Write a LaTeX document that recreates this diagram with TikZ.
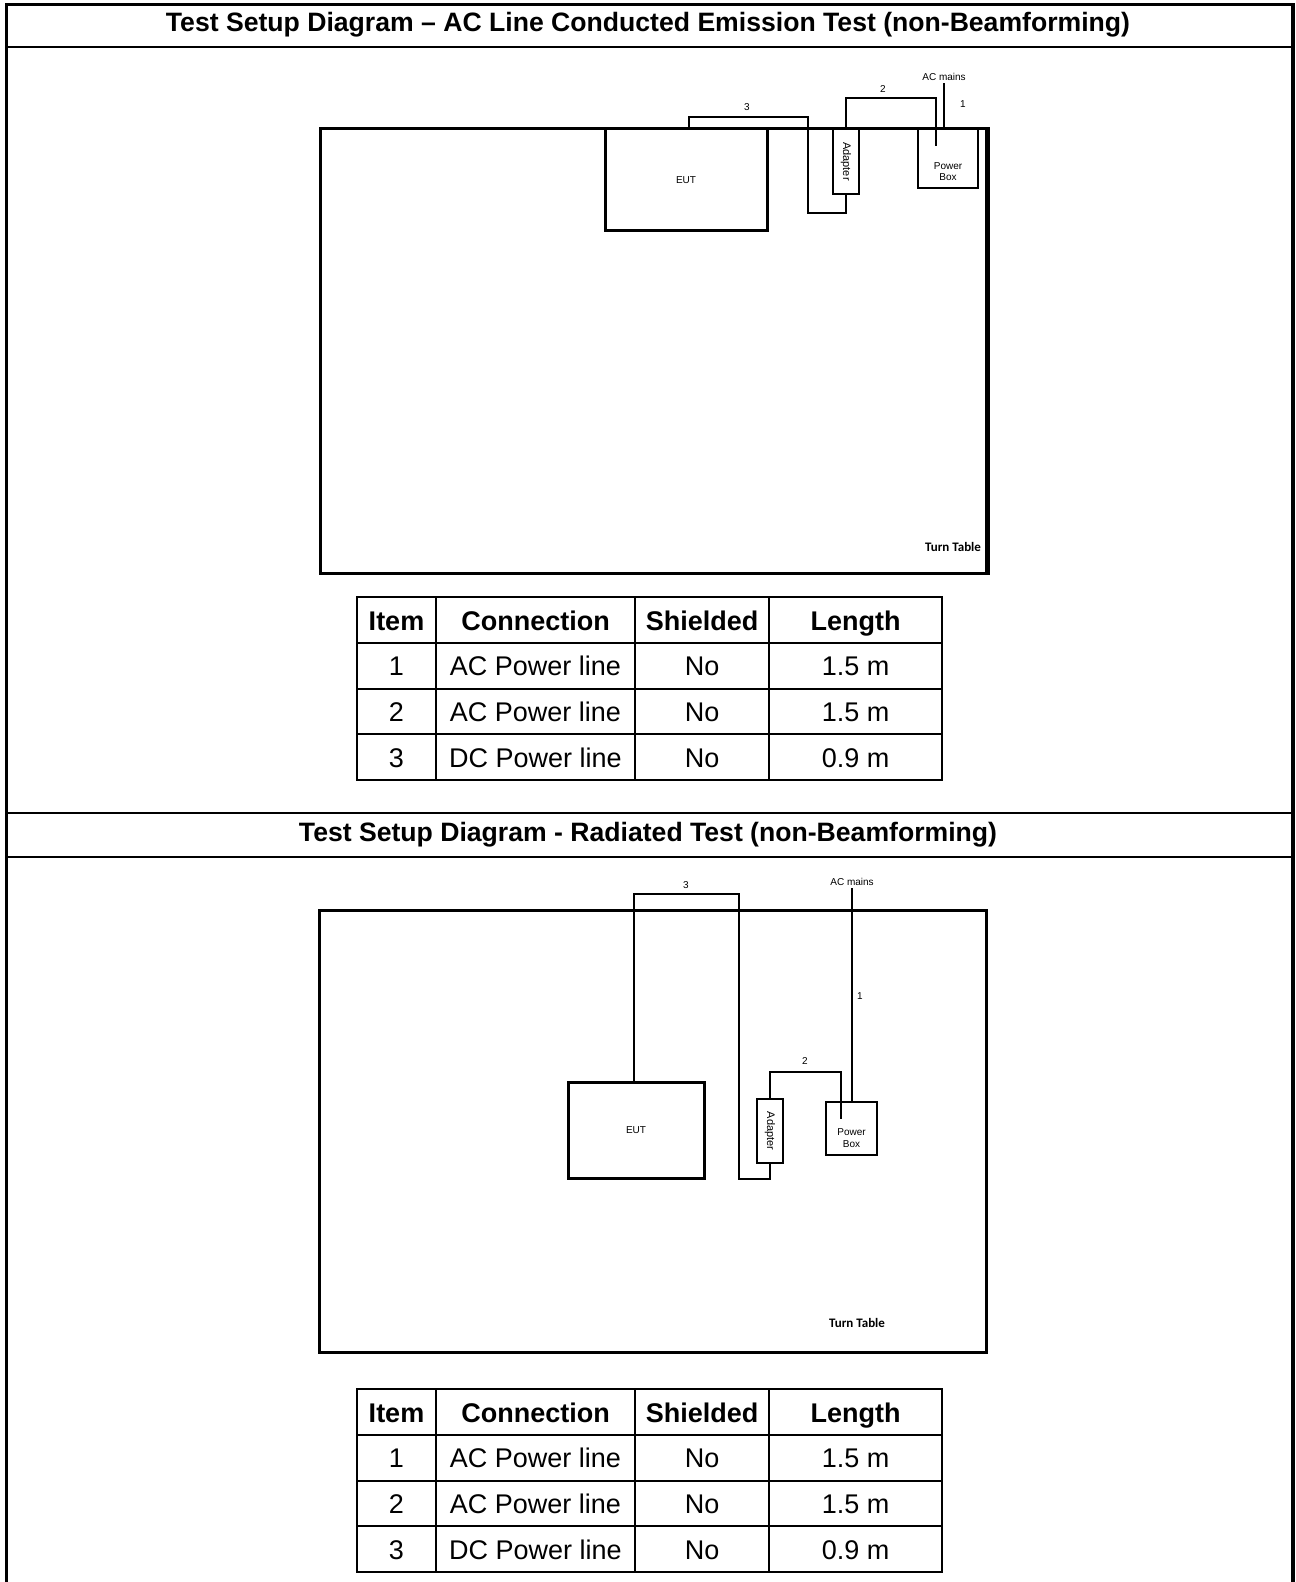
\documentclass[tikz,border=0pt]{standalone}
\usepackage{fontspec}
\setmainfont{Liberation Sans}
\newfontfamily\calibfont{Carlito}
\usetikzlibrary{positioning,calc}

\begin{document}
\begin{tikzpicture}[x=0.5pt,y=-0.5pt,
    frame/.style={line width=1.6pt},
    rule/.style={line width=1.1pt},
    turntable/.style={draw,line width=1.5pt,inner sep=0pt},
    eutbox/.style={draw,line width=1.5pt,inner sep=0pt,font=\fontsize{5}{6}\selectfont},
    devbox/.style={draw,line width=0.9pt,inner sep=0pt,font=\fontsize{5.5}{6}\selectfont},
    cable/.style={line width=0.9pt},
    lbl/.style={font=\fontsize{5}{5.6}\selectfont,inner sep=1pt,align=center},
    ttlabel/.style={font=\calibfont\bfseries\fontsize{6.5}{7}\selectfont},
    headline/.style={font=\bfseries\fontsize{13.3}{15}\selectfont},
    cell/.style={draw,line width=0.9pt,minimum height=22.875pt,inner sep=0pt,
                 text height=12pt,text depth=2pt,
                 font=\fontsize{13.5}{15}\selectfont},
    hcell/.style={cell,font=\bfseries\fontsize{13.5}{15}\selectfont},
    itemcol/.style={minimum width=39.5pt},
    conncol/.style={minimum width=99.5pt},
    shieldcol/.style={minimum width=67pt},
    lengthcol/.style={minimum width=86.5pt}
  ]
    \useasboundingbox (0,0) rectangle (1295,1582);
    % outer frame and title rows
    \draw[frame] (6.5,1582) -- (6.5,4.5) -- (1293,4.5) -- (1293,1582);
    \draw[rule] (6.5,47) -- (1293,47);
    \draw[rule] (6.5,813) -- (1293,813);
    \draw[rule] (6.5,857) -- (1293,857);
    \node[headline] (title1) at (648,25)
      {Test Setup Diagram – AC Line Conducted Emission Test (non-Beamforming)};
    \node[headline] (title2) at (648,835)
      {Test Setup Diagram - Radiated Test (non-Beamforming)};

    % conducted emission setup
    \node[turntable,minimum width=333pt,minimum height=222pt] (tt1) at (653,351) {};
    \draw[line width=2.4pt] (tt1.north east) -- (tt1.south east);
    \node[eutbox,minimum width=81pt,minimum height=51pt] (eut1) at (686,180) {EUT};
    \node[devbox,minimum width=13pt,minimum height=32.5pt] (adp1) at (846,161.5)
      {\rotatebox{-90}{Adapter}};
    \node[devbox,minimum width=30pt,minimum height=29.5pt] (pwr1) at (948,158.5) {};
    \node[lbl] (pwrtxt1) at (948,172) {Power\\Box};
    \node[ttlabel] (ttl1) at (953,547) {Turn Table};
    \coordinate (c3a) at (689,117);
    \coordinate (c3b) at (808,213);
    \coordinate (c2a) at (936,98);
    \coordinate (c2b) at (936,146);
    \coordinate (mains1) at (944,83);
    \draw[cable] (c3a |- eut1.north) -- (c3a) -| (c3b) -| (adp1.south);
    \draw[cable] (adp1.north) |- (c2a) -- (c2b);
    \draw[cable] (mains1 |- pwr1.north) -- (mains1);
    \node[lbl,above=0pt of mains1] (acm1) {AC mains};
    \node[lbl] (no1a) at (963,104) {1};
    \node[lbl] (no2a) at (883,89) {2};
    \node[lbl] (no3a) at (747,107) {3};

    % radiated setup
    \node[turntable,minimum width=333.5pt,minimum height=221pt] (tt2) at (652.5,1131) {};
    \node[eutbox,minimum width=68pt,minimum height=48pt] (eut2) at (636,1130) {EUT};
    \node[devbox,minimum width=13pt,minimum height=32pt] (adp2) at (770,1131)
      {\rotatebox{-90}{Adapter}};
    \node[devbox,minimum width=25.5pt,minimum height=26.5pt] (pwr2) at (851.5,1128.5) {};
    \node[lbl] (pwrtxt2) at (851.5,1138) {Power\\Box};
    \node[ttlabel] (ttl2) at (857,1323) {Turn Table};
    \coordinate (d3a) at (634,894);
    \coordinate (d3b) at (739,1179);
    \coordinate (d2a) at (841,1072);
    \coordinate (d2b) at (841,1119);
    \coordinate (mains2) at (852,888);
    \draw[cable] (d3a |- eut2.north) -- (d3a) -| (d3b) -| (adp2.south);
    \draw[cable] (adp2.north) |- (d2a) -- (d2b);
    \draw[cable] (mains2 |- pwr2.north) -- (mains2);
    \node[lbl,above=0pt of mains2] (acm2) {AC mains};
    \node[lbl] (no1b) at (860,996) {1};
    \node[lbl] (no2b) at (805,1061) {2};
    \node[lbl] (no3b) at (686,885) {3};

    % cable tables
    \foreach \ty/\tn in {620/a,1412/b} {
      \node[hcell,itemcol]   (\tn-h1) at (396.5,\ty) {Item};
      \node[hcell,conncol]   (\tn-h2) at (535.5,\ty) {Connection};
      \node[hcell,shieldcol] (\tn-h3) at (702,\ty)   {Shielded};
      \node[hcell,lengthcol] (\tn-h4) at (855.5,\ty) {Length};
      \foreach \i/\kind/\len in {1/AC/1.5,2/AC/1.5,3/DC/0.9} {
        \node[cell,itemcol]   (\tn-\i-1) at (396.5,{\ty+45.75*\i}) {\i};
        \node[cell,conncol]   (\tn-\i-2) at (535.5,{\ty+45.75*\i}) {\kind{} Power line};
        \node[cell,shieldcol] (\tn-\i-3) at (702,{\ty+45.75*\i})   {No};
        \node[cell,lengthcol] (\tn-\i-4) at (855.5,{\ty+45.75*\i}) {\len{} m};
      }
    }
  \end{tikzpicture}
\end{document}
